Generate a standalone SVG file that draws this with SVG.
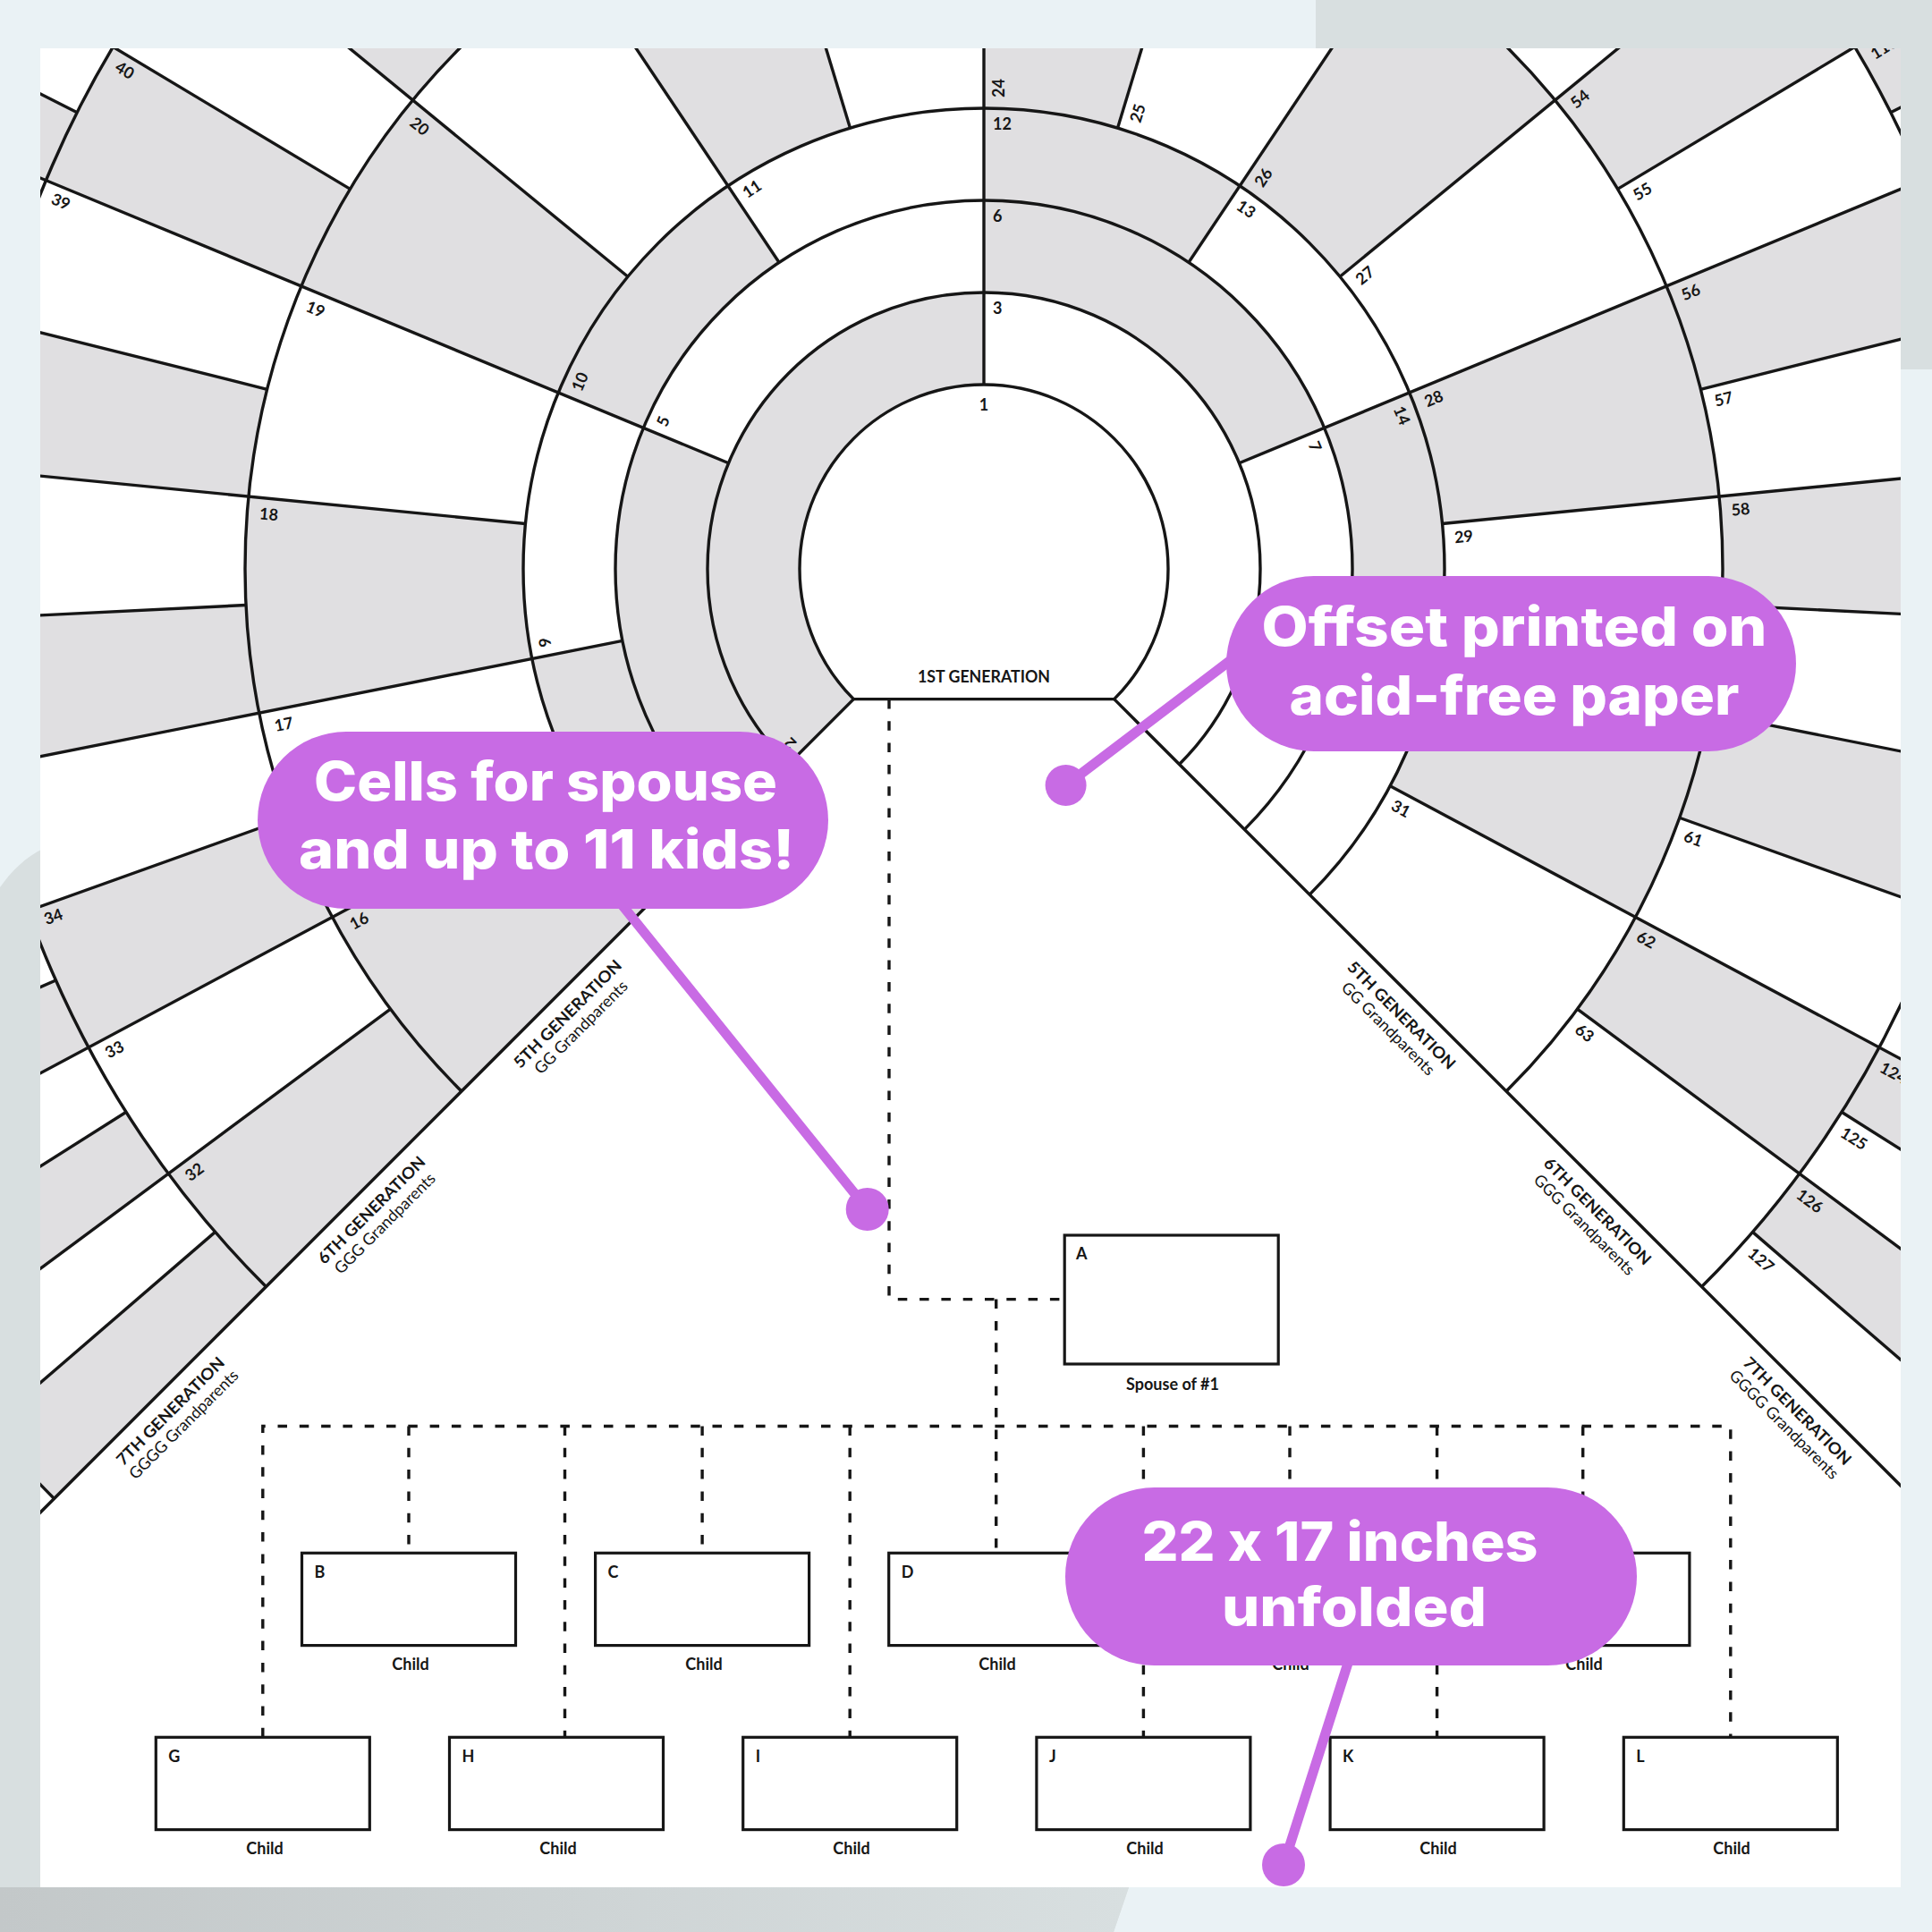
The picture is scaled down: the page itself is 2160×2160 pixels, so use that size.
<svg xmlns="http://www.w3.org/2000/svg" width="2160" height="2160" viewBox="0 0 2160 2160">
<defs>
<style>
.ln{stroke:#161616;stroke-width:3.4;fill:none}
.rg{fill:none;stroke:#e0dfe1}
.n{font-family:Lato,"Liberation Sans",sans-serif;font-weight:700;font-size:18px;fill:#161616}
.g{font-family:Lato,"Liberation Sans",sans-serif;font-weight:700;font-size:18px;fill:#161616;text-anchor:middle}
.s{font-family:Lato,"Liberation Sans",sans-serif;font-weight:400;font-size:18px;fill:#161616;text-anchor:middle}
.bx{fill:#fff;stroke:#161616;stroke-width:3.2}
.bl{font-family:Lato,"Liberation Sans",sans-serif;font-weight:700;font-size:18px;fill:#161616}
.cl{font-family:Lato,"Liberation Sans",sans-serif;font-weight:700;font-size:18px;fill:#161616;text-anchor:middle}
.ds{fill:none;stroke:#161616;stroke-width:3.4;stroke-dasharray:10.5 13.8}
.pl{fill:#c86be4}
.pc{stroke:#c86be4;stroke-width:11;stroke-linecap:round;fill:none}
.ct{font-family:Inter,"Open Sans","Liberation Sans",sans-serif;font-weight:800;font-size:60px;fill:#fff;text-anchor:middle;font-feature-settings:"calt" 0;font-variant-ligatures:none}
</style>
<clipPath id="paper"><rect x="45" y="54" width="2080" height="2056"/></clipPath>
<linearGradient id="gb" x1="0" y1="0" x2="1" y2="0"><stop offset="0" stop-color="#c3c8c9"/><stop offset="1" stop-color="#d8dfe0"/></linearGradient>
</defs>

<g id="background">
<rect width="2160" height="2160" fill="#eaf2f5"/>
<rect x="1471" y="-60" width="760" height="473" rx="50" fill="#d8dfe0"/>
<path d="M0,992 C12,975 28,958 50,948 L1300,948 L1262,2110 L1245,2160 L0,2160 Z" fill="#d8dfe0"/>
<path d="M0,2110 H1262 L1245,2160 H0 Z" fill="url(#gb)"/>
<rect x="45" y="54" width="2080" height="2056" fill="#ffffff"/>
</g>

<g id="fan" clip-path="url(#paper)">
<g transform="translate(1100,636)">
<g id="shading" transform="rotate(135)">
<circle class="rg" r="257.5" stroke-width="103" stroke-dasharray="606.72 606.72"/>
<circle class="rg" r="360.5" stroke-width="103" stroke-dasharray="424.704 424.704"/>
<circle class="rg" r="463.5" stroke-width="103" stroke-dasharray="273.024 273.024"/>
<circle class="rg" r="670.5" stroke-width="311" stroke-dasharray="197.479 197.479"/>
<circle class="rg" r="980.5" stroke-width="309" stroke-dasharray="144.391 144.391"/>
<circle class="rg" r="1302.5" stroke-width="335" stroke-dasharray="95.904 95.904"/>
</g>
<path d="M-145.66,145.66 L145.66,145.66 L1800,1800 L-1800,1800 Z" fill="#ffffff"/>
<g id="arcs" class="ln">
<path d="M-145.66,145.66A206,206 0 1 1 145.66,145.66Z"/>
<path d="M-218.5,218.5A309,309 0 1 1 218.5,218.5"/>
<path d="M-291.33,291.33A412,412 0 1 1 291.33,291.33"/>
<path d="M-364.16,364.16A515,515 0 1 1 364.16,364.16"/>
<path d="M-584.07,584.07A826,826 0 1 1 584.07,584.07"/>
<path d="M-802.57,802.57A1135,1135 0 1 1 802.57,802.57"/>
<path d="M-1039.45,1039.45A1470,1470 0 1 1 1039.45,1039.45"/>
</g>
<g id="radials" class="ln">
<line x1="206" x2="1800" transform="rotate(135)"/>
<line x1="206" x2="1800" transform="rotate(45)"/>
<line x1="206" x2="1470" transform="rotate(270)"/>
<line x1="309" x2="1470" transform="rotate(202.5)"/>
<line x1="309" x2="1470" transform="rotate(337.5)"/>
<line x1="412" x2="1470" transform="rotate(168.75)"/>
<line x1="412" x2="1470" transform="rotate(236.25)"/>
<line x1="412" x2="1470" transform="rotate(303.75)"/>
<line x1="412" x2="1470" transform="rotate(371.25)"/>
<line x1="515" x2="1470" transform="rotate(151.875)"/>
<line x1="515" x2="1470" transform="rotate(185.625)"/>
<line x1="515" x2="1470" transform="rotate(219.375)"/>
<line x1="515" x2="1470" transform="rotate(253.125)"/>
<line x1="515" x2="1470" transform="rotate(286.875)"/>
<line x1="515" x2="1470" transform="rotate(320.625)"/>
<line x1="515" x2="1470" transform="rotate(354.375)"/>
<line x1="515" x2="1470" transform="rotate(388.125)"/>
<line x1="826" x2="1470" transform="rotate(143.4375)"/>
<line x1="826" x2="1470" transform="rotate(160.3125)"/>
<line x1="826" x2="1470" transform="rotate(177.1875)"/>
<line x1="826" x2="1470" transform="rotate(194.0625)"/>
<line x1="826" x2="1470" transform="rotate(210.9375)"/>
<line x1="826" x2="1470" transform="rotate(227.8125)"/>
<line x1="826" x2="1470" transform="rotate(244.6875)"/>
<line x1="826" x2="1470" transform="rotate(261.5625)"/>
<line x1="826" x2="1470" transform="rotate(278.4375)"/>
<line x1="826" x2="1470" transform="rotate(295.3125)"/>
<line x1="826" x2="1470" transform="rotate(312.1875)"/>
<line x1="826" x2="1470" transform="rotate(329.0625)"/>
<line x1="826" x2="1470" transform="rotate(345.9375)"/>
<line x1="826" x2="1470" transform="rotate(362.8125)"/>
<line x1="826" x2="1470" transform="rotate(379.6875)"/>
<line x1="826" x2="1470" transform="rotate(396.5625)"/>
<line x1="1135" x2="1470" transform="rotate(139.21875)"/>
<line x1="1135" x2="1470" transform="rotate(147.65625)"/>
<line x1="1135" x2="1470" transform="rotate(156.09375)"/>
<line x1="1135" x2="1470" transform="rotate(164.53125)"/>
<line x1="1135" x2="1470" transform="rotate(172.96875)"/>
<line x1="1135" x2="1470" transform="rotate(181.40625)"/>
<line x1="1135" x2="1470" transform="rotate(189.84375)"/>
<line x1="1135" x2="1470" transform="rotate(198.28125)"/>
<line x1="1135" x2="1470" transform="rotate(206.71875)"/>
<line x1="1135" x2="1470" transform="rotate(215.15625)"/>
<line x1="1135" x2="1470" transform="rotate(223.59375)"/>
<line x1="1135" x2="1470" transform="rotate(232.03125)"/>
<line x1="1135" x2="1470" transform="rotate(240.46875)"/>
<line x1="1135" x2="1470" transform="rotate(248.90625)"/>
<line x1="1135" x2="1470" transform="rotate(257.34375)"/>
<line x1="1135" x2="1470" transform="rotate(265.78125)"/>
<line x1="1135" x2="1470" transform="rotate(274.21875)"/>
<line x1="1135" x2="1470" transform="rotate(282.65625)"/>
<line x1="1135" x2="1470" transform="rotate(291.09375)"/>
<line x1="1135" x2="1470" transform="rotate(299.53125)"/>
<line x1="1135" x2="1470" transform="rotate(307.96875)"/>
<line x1="1135" x2="1470" transform="rotate(316.40625)"/>
<line x1="1135" x2="1470" transform="rotate(324.84375)"/>
<line x1="1135" x2="1470" transform="rotate(333.28125)"/>
<line x1="1135" x2="1470" transform="rotate(341.71875)"/>
<line x1="1135" x2="1470" transform="rotate(350.15625)"/>
<line x1="1135" x2="1470" transform="rotate(358.59375)"/>
<line x1="1135" x2="1470" transform="rotate(367.03125)"/>
<line x1="1135" x2="1470" transform="rotate(375.46875)"/>
<line x1="1135" x2="1470" transform="rotate(383.90625)"/>
<line x1="1135" x2="1470" transform="rotate(392.34375)"/>
<line x1="1135" x2="1470" transform="rotate(400.78125)"/>
</g>
<g id="cell-numbers" class="n">
<text x="0" y="-177" text-anchor="middle">1</text>
<text transform="rotate(135) translate(285,0) rotate(90)" x="10">2</text>
<text transform="rotate(270) translate(285,0) rotate(90)" x="10">3</text>
<text transform="rotate(202.5) translate(388,0) rotate(90)" x="10">5</text>
<text transform="rotate(270) translate(388,0) rotate(90)" x="10">6</text>
<text transform="rotate(337.5) translate(388,0) rotate(90)" x="10">7</text>
<text transform="rotate(168.75) translate(491,0) rotate(90)" x="10">9</text>
<text transform="rotate(202.5) translate(491,0) rotate(90)" x="10">10</text>
<text transform="rotate(236.25) translate(491,0) rotate(90)" x="10">11</text>
<text transform="rotate(270) translate(491,0) rotate(90)" x="10">12</text>
<text transform="rotate(303.75) translate(491,0) rotate(90)" x="10">13</text>
<text transform="rotate(337.5) translate(491,0) rotate(90)" x="10">14</text>
<text transform="rotate(151.875) translate(812,0) rotate(180)" y="24">16</text>
<text transform="rotate(168.75) translate(812,0) rotate(180)" y="24">17</text>
<text transform="rotate(185.625) translate(812,0) rotate(180)" y="24">18</text>
<text transform="rotate(202.5) translate(812,0) rotate(180)" y="24">19</text>
<text transform="rotate(219.375) translate(812,0) rotate(180)" y="24">20</text>
<text transform="rotate(270)" x="527" y="23">24</text>
<text transform="rotate(286.875)" x="527" y="23">25</text>
<text transform="rotate(303.75)" x="527" y="23">26</text>
<text transform="rotate(320.625)" x="527" y="23">27</text>
<text transform="rotate(337.5)" x="527" y="23">28</text>
<text transform="rotate(354.375)" x="527" y="23">29</text>
<text transform="rotate(388.125)" x="527" y="23">31</text>
<text transform="rotate(143.4375) translate(1121,0) rotate(180)" y="22">32</text>
<text transform="rotate(151.875) translate(1121,0) rotate(180)" y="22">33</text>
<text transform="rotate(160.3125) translate(1121,0) rotate(180)" y="22">34</text>
<text transform="rotate(202.5) translate(1121,0) rotate(180)" y="22">39</text>
<text transform="rotate(210.9375) translate(1121,0) rotate(180)" y="22">40</text>
<text transform="rotate(320.625)" x="838" y="23">54</text>
<text transform="rotate(329.0625)" x="838" y="23">55</text>
<text transform="rotate(337.5)" x="838" y="23">56</text>
<text transform="rotate(345.9375)" x="838" y="23">57</text>
<text transform="rotate(354.375)" x="838" y="23">58</text>
<text transform="rotate(379.6875)" x="838" y="23">61</text>
<text transform="rotate(388.125)" x="838" y="23">62</text>
<text transform="rotate(396.5625)" x="838" y="23">63</text>
<text transform="rotate(329.0625)" x="1147" y="24">110</text>
<text transform="rotate(388.125)" x="1147" y="24">124</text>
<text transform="rotate(392.34375)" x="1147" y="24">125</text>
<text transform="rotate(396.5625)" x="1147" y="24">126</text>
<text transform="rotate(400.78125)" x="1147" y="24">127</text>
</g>
<g id="generation-labels">
<text class="g" x="0" y="127" textLength="148" lengthAdjust="spacingAndGlyphs">1ST GENERATION</text>
<g transform="rotate(135) translate(681,0) rotate(180)"><text class="g" y="29" textLength="162" lengthAdjust="spacingAndGlyphs">5TH GENERATION</text><text class="s" y="50" textLength="139" lengthAdjust="spacingAndGlyphs">GG Grandparents</text></g>
<g transform="rotate(135) translate(991,0) rotate(180)"><text class="g" y="29" textLength="161" lengthAdjust="spacingAndGlyphs">6TH GENERATION</text><text class="s" y="50" textLength="151" lengthAdjust="spacingAndGlyphs">GGG Grandparents</text></g>
<g transform="rotate(135) translate(1309,0) rotate(180)"><text class="g" y="29" textLength="162" lengthAdjust="spacingAndGlyphs">7TH GENERATION</text><text class="s" y="50" textLength="164" lengthAdjust="spacingAndGlyphs">GGGG Grandparents</text></g>
<g transform="rotate(45) translate(683,0)"><text class="g" y="29" textLength="162" lengthAdjust="spacingAndGlyphs">5TH GENERATION</text><text class="s" y="50" textLength="139" lengthAdjust="spacingAndGlyphs">GG Grandparents</text></g>
<g transform="rotate(45) translate(993,0)"><text class="g" y="29" textLength="161" lengthAdjust="spacingAndGlyphs">6TH GENERATION</text><text class="s" y="50" textLength="151" lengthAdjust="spacingAndGlyphs">GGG Grandparents</text></g>
<g transform="rotate(45) translate(1309,0)"><text class="g" y="29" textLength="162" lengthAdjust="spacingAndGlyphs">7TH GENERATION</text><text class="s" y="50" textLength="164" lengthAdjust="spacingAndGlyphs">GGGG Grandparents</text></g>
</g>
</g>
</g>

<g id="connectors">
<path class="ds" d="M994,782 V1452.6 H1190.2"/>
<path class="ds" d="M1113.7,1452.6 V1736.3"/>
<path class="ds" d="M293.8,1942.3 V1594.5 H1934.8 V1942.3"/>
<path class="ds" d="M457,1594.5 V1736.3"/>
<path class="ds" d="M785.1,1594.5 V1736.3"/>
<path class="ds" d="M1442,1594.5 V1736.3"/>
<path class="ds" d="M1769.7,1594.5 V1736.3"/>
<path class="ds" d="M631.5,1594.5 V1942.3"/>
<path class="ds" d="M950.2,1594.5 V1942.3"/>
<path class="ds" d="M1278.4,1594.5 V1942.3"/>
<path class="ds" d="M1606.6,1594.5 V1942.3"/>
</g>

<g id="box-A"><rect class="bx" x="1190.2" y="1381" width="239" height="144"/><text class="bl" x="1203" y="1408">A</text><text class="cl" x="1311" y="1554">Spouse of #1</text></g>
<g id="box-B"><rect class="bx" x="337.5" y="1736.3" width="239" height="103.3"/><text class="bl" x="351.5" y="1764">B</text><text class="cl" x="459" y="1867">Child</text></g>
<g id="box-C"><rect class="bx" x="665.6" y="1736.3" width="239" height="103.3"/><text class="bl" x="679.6" y="1764">C</text><text class="cl" x="787" y="1867">Child</text></g>
<g id="box-D"><rect class="bx" x="993.7" y="1736.3" width="239" height="103.3"/><text class="bl" x="1007.7" y="1764">D</text><text class="cl" x="1115" y="1867">Child</text></g>
<g id="box-E"><rect class="bx" x="1321.8" y="1736.3" width="239" height="103.3"/><text class="cl" x="1443" y="1867">Child</text></g>
<g id="box-F"><rect class="bx" x="1649.9" y="1736.3" width="239" height="103.3"/><text class="cl" x="1771" y="1867">Child</text></g>
<g id="box-G"><rect class="bx" x="174.3" y="1942.3" width="239" height="103.3"/><text class="bl" x="188.3" y="1970">G</text><text class="cl" x="296" y="2073">Child</text></g>
<g id="box-H"><rect class="bx" x="502.5" y="1942.3" width="239" height="103.3"/><text class="bl" x="516.5" y="1970">H</text><text class="cl" x="624" y="2073">Child</text></g>
<g id="box-I"><rect class="bx" x="830.7" y="1942.3" width="239" height="103.3"/><text class="bl" x="844.7" y="1970">I</text><text class="cl" x="952" y="2073">Child</text></g>
<g id="box-J"><rect class="bx" x="1158.9" y="1942.3" width="239" height="103.3"/><text class="bl" x="1172.9" y="1970">J</text><text class="cl" x="1280" y="2073">Child</text></g>
<g id="box-K"><rect class="bx" x="1487.1" y="1942.3" width="239" height="103.3"/><text class="bl" x="1501.1" y="1970">K</text><text class="cl" x="1608" y="2073">Child</text></g>
<g id="box-L"><rect class="bx" x="1815.3" y="1942.3" width="239" height="103.3"/><text class="bl" x="1829.3" y="1970">L</text><text class="cl" x="1936" y="2073">Child</text></g>

<g id="callout-paper">
<line class="pc" x1="1380" y1="735" x2="1191.6" y2="878"/>
<circle cx="1191.6" cy="878" r="23" class="pl"/>
<rect class="pl" x="1371" y="644" width="637" height="196" rx="98"/>
<text class="ct" x="1693" y="722" textLength="565" lengthAdjust="spacingAndGlyphs">Offset printed on</text>
<text class="ct" x="1693" y="799" textLength="503" lengthAdjust="spacingAndGlyphs">acid-free paper</text>
</g>
<g id="callout-kids">
<line class="pc" x1="690" y1="1005" x2="969.7" y2="1352"/>
<circle cx="969.7" cy="1352" r="24" class="pl"/>
<rect class="pl" x="288" y="818" width="638" height="198" rx="99"/>
<text class="ct" x="610" y="895" textLength="518" lengthAdjust="spacingAndGlyphs">Cells for spouse</text>
<text class="ct" x="611" y="971" textLength="554" lengthAdjust="spacingAndGlyphs">and up to 11 kids!</text>
</g>
<g id="callout-size">
<line class="pc" x1="1510" y1="1850" x2="1435" y2="2085"/>
<circle cx="1435" cy="2085" r="24" class="pl"/>
<rect class="pl" x="1191" y="1663" width="639" height="199" rx="99.5"/>
<text class="ct" x="1498" y="1745" textLength="443" lengthAdjust="spacingAndGlyphs">22 x 17 inches</text>
<text class="ct" x="1514" y="1818" textLength="296" lengthAdjust="spacingAndGlyphs">unfolded</text>
</g>
</svg>
